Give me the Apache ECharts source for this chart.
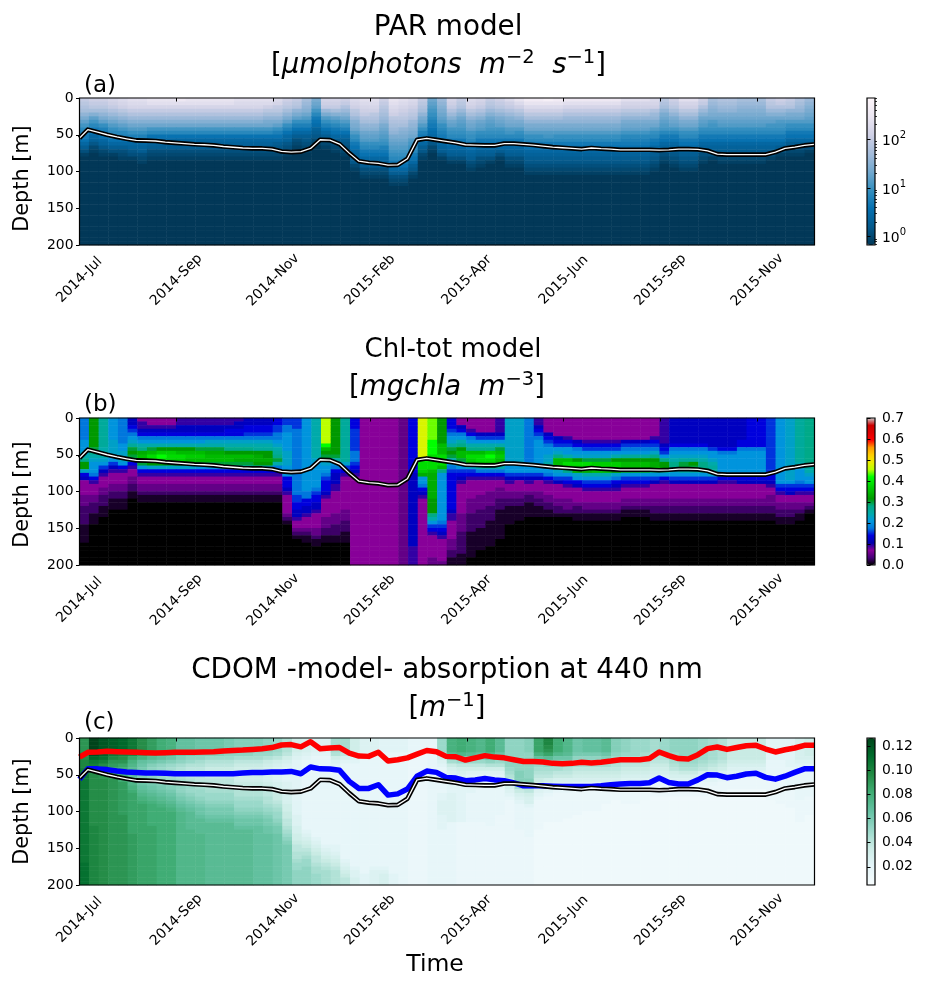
<!DOCTYPE html>
<html><head><meta charset="utf-8">
<style>html,body{margin:0;padding:0;background:#fff}#c{width:926px;height:985px}</style>
<script src="https://cdn.jsdelivr.net/npm/echarts@6/dist/echarts.min.js"></script>
</head><body><div id="c"></div>
<script>
const xTickLabels = ['2014-Jul','2014-Sep','2014-Nov','2015-Feb','2015-Apr','2015-Jun','2015-Sep','2015-Nov'];
const xTickCols = [0,10,20,30,40,50,60,70];
const depthTicks = [0,50,100,150,200];
const columnCount = 76;
const rowCount = 40;      // 5 m rows, 0-200 m
const rowDepth = 5;

// Each string is one time column, read top to bottom; a string's last character holds down to 200 m.
// PAR: base-36 level over the log10 colour range.
const parCols = [
"ponmkigecba975310","qpomjgeca9764210","qpomkigdba9764210","rqpnljhfdcb975310","srqomkigecb9753210","tsrpnljhfdb9764310",
"tsrpnljhfdb97653210","utrpnljhec97653210","utrpnljhec97653210","utrpnljhec97653210","vtrpnljhec97653210","utrpnljhec97653210",
"utrpnljhec97653210","utrpnljhec97653210","utrpnljhec97653210","utrpnljhec97653210","tsrpnljhec97653210","tsrpnljhec97653210",
"tsrpnljhec97653210","tsqomkihec97653210","srpomkigdb97543210","qpomkigdb97643210","ponkigdb9753210","mlkjhfdb97543210",
"ihgeca98654210","rqplifdb9753210","rqpmjgeca9753210","qpnljhfdb97543210","srqonljihfdca97654210",
"tsrqpnmkjhgfdca97653210","tsrqonmkjhgfdca97653210","qponmlkihgfedba97653210","utsrqonmlkihgfedca9753210","tsrqponmkjihgfedca9753210",
"srqponlkjihfedca9754210","ponmkihfdba975421 0","hgfedcba98754210","lkjihgfdcba9765310","rqpnljhgedca9765310",
"ponljhgfedca9765310","srqomkihgedca97653210","rqpnljhgfdca97653210","ponljhgfedca9765310","qpomkihgedca975310",
"sqpnljihfeca97653210","usqomkihfdca97653210","wusqomkihfdca976543210","wusqomkihfdca976543210","xusqomkihfeca976543210",
"wusqomkihfdca976543210","vtrpnlkihfdca976543210","vtrpnlkihfdca976543210","vtrpnlkihfdca976543210","vtrpnlkihfdca976543210",
"vtrpnlkihfdca976543210","vtrpnlkihfdca976543210","trqomkihgecba976543210","trqomkihgecba976543210","trqomkihgecba976543210",
"srqnlkihfdca976543210","onmkihgfeca97653210","qpomkihgeca976543210","trqomkihfdca976543210","trqomkihfdca976543210",
"qpnljhgfdca97653210","mlkjihfedca9765310","nmlkihgfdca97653210","nmlkihgfdca97653210","mlkjihgfdca97653210",
"mlkjihgfdca97653210","mlkjihgfdca97653210","ponljhgedca9765310","qpnljhfedca975310","ponkihfdca9753210","nmlkihfdca9753210","lkjihgfdca975310"
].map(s=>s.replace(/ /g,''));

// Chl: each character is a colour class, valued by chlLevels.
const chlLevels = {0:0,1:.012,2:.03,3:.05,4:.07,5:.092,6:.12,7:.14,8:.155,9:.175,a:.205,b:.225,c:.245,d:.26,e:.28,f:.30,g:.315,h:.335,i:.35,j:.37,k:.385,l:.42,m:.44,n:.455,o:.475,p:.49};
const chlCols = [
"999999aaabceggb76444433322222111110","ggggggggfecbaaa975444332221110","ddddddddcccba865444332221110","aaaaaabbbbaa86544433221110",
"9999999aabbba7544433221110","66789abdfgfc75443322110","455679acehiifa7544332110","445679acfikjgb7544332110",
"445679acgjlkgb7544332110","445679acgjkjgb7544332110","556679acgikjgb7544332110","556679acgijifb7544332110",
"556679acfijifa7544332110","556679bcfhiifa7544332110","556679bcfhiifa7544332110","556779bcegiifa7544332110",
"566779bcegihfb7544332110","667789bcegihfb7544332110","667789bcdghhgb7544332110","667789bcdgghgb7544332110",
"778899abcdefc97544332110","8899aaaaabbbbaaa77765444443210","8889999999999999999998877665443210",
"aaaaaaaaaaaaaaaaaaaa997766544432110","cccccccccccbaaaaaaa98776654444332110","nnnnnnnligfcbaa98777654444433322110",
"ggggggggggfca9766655444444333222110","ddddddddddddb8754444444443332221110",
"77788888899987654","4","4","4","4","3",
"777777777777777666666666666666666665","ooooooooooolkkjhaa97654","mmmmmmllllkkkkihhhhhhhggggeca8754444443","gggggggiiikkkieaaaaaaaaaaaaa987654444443",
"77789abdfgfca987777777777655444443332211","44679acegiifca876544444444333332222221","444579aceikjgb8754444433332222211111110","444468aceikkhc9754444333322222111111 0",
"444468acejlkhc9754443333222211111110","555568acfijigc97544333222111111110","bbbbbbbbbbbbbaa865443322111110",
"bbbbbbbbbbbbbaa86444332211110","999999999999aaa8654432211110","556789aaaaaaaaa8644433221110",
"44446789aabbcaa9754443322110","44444678abeiigba864444332210","44444578aacikiea875444333210","444444679abgkjhba764444322110",
"444444578abfkkhca875444332110","444444578abfjkica875444332110","444444578abfjkica875444332110","444444578acgjjgb9765444332110",
"444444689adgiifa875444332110","444444689adgiifa875444332110","444444689adgiifa875444332110","444445789beghhea8644443322110",
"5555555678aeggda7544443322110","666666679abceeba86444433221 10","666666679abdffca8644443322110","666666679abdgfca8644443322110",
"666666679abceeca8644443322110","666666668aabcddb8644443322110","6666666679aaaaa97544443322110","6666666679aaaaa97544443322110",
"666666779aaaaaa87644443322110","777777779aaaaaa87644443322110","777777779aaaaaa87644443322110","88888888888888877654433322110",
"aaaaaaaaaaaaaaaaaa875443322110","bbbbbbbbbbbbbbbbba876443322110","ddddddddddddcbaaa987544332110","eeeeeeeeeeeeedcbaa875443210"
].map(s=>s.replace(/ /g,''));

// CDOM: base-36 level over the colour range.
const cdomCols = [
"ppppqqrrssttttttttttttttttttttttttu","zzzzyvtsrqqqqqqqqqqqqqqqr","xxxxwusqpopqqqqqqqqqqqq","wwwwtrponnop","vvvvsqpnmllmooooooooop","ttttrnlkjiijklmnnnnnnnnnnno",
"qqqqolihgffghijklmn","oooomjhfeeefghijklmmmmmmn","mmmmkigedddefghijklm","lllljhfdcccdefghijklm","iiiihfecbbbcdeefghijk","iiiigedbaaabcddefghijjjjjk",
"hhhhfecbaaaabcddefghhijjjjk","hhhhfdba999aabcddefgghij","hhhhfdba999aabcddefgghij","ggggedba999aabcddefgghij","ffffeca988889abbcddefghhij","ffffeca988889abbcddefghhij",
"ffffdca988889abbcddefghhi","eeeedb98777789aabbcdefgghhi","ddddca87666677899abcddefggh","bbbba87655556667778899aabcdefg",
"88887655555555555555566677889aabbcdde","777765444444444444444444456789abcdde","66665444444444444444444444456789aabccd","6666544444444444444444444444456789abc",
"ccccb865444444444444444444444556789ab","cccca754444444444444444444444444456789aabb","88887654444444444444444444444444444566778",
"66665444444444444444444444444444444445","66665444444444444444444444444444444566","55554444444444444444444444444444444567","55554444444444444444444444444444444445","55554444",
"44443","44443","44444444","ddddb8654444444556666555 54","lllljfc97655555666666664","mmmmkgda8765555555555553",
"lllljfda8655555444444443","kkkkifda8655544444444443","mmmmkheb86544444444444443","jjjjhfdb86544444444443",
"eeeeeeeedcba876543","eeeeeeeeefffec976544444443","ffffeeeeeeefeda8775444444443","nnnnlifdcba987654333333332","rrqpnjgecba8765433333332",
"mmmmkhfdca97654333333332","kkkkjhfdba9765433333332","hhhhgedca9875433333332","iiiigedca987543333332","iiiigedca987543333332","jjjjhfdca9875433332",
"ffffedcba987543332","eeeedcba987654333322","dddddcba987654333322","ddddccba98765433322","ccccbba98765433322","ddddcba9876543332",
"eeeeddcba87654332","eeeeeedcb97654332","eeeeeedcb97654332","ddddddcba76543332","ccccccba976543322","bbbbbba9865433322","999999876543332","999999876543332",
"9999998765433322","9999998765433322","5555554444433333322","5555554444433333332","55555555444444333332","777777655444444443333332","8888876554444444333332"
].map(s=>s.replace(/ /g,''));

// Line values: depth in m at each time step.
const mldDepth = [54.5,43,46.5,50,53,55.5,57.7,58,58.5,60,61,62,63,63.6,64.5,66,67,68,68.6,68.6,69.5,72.7,73.6,73,68.6,56.8,57.3,62.7,75,86,88,89,91.4,91,82.7,57,55,57,59,61,63.6,64,64.5,64.5,62,62,63,64,65.5,66.8,67.7,68.6,69.5,68,69,69.5,70.5,70.5,70.5,70.5,71,70.5,69.5,69.5,70,71.8,76.4,77,77,77,77,77,73.6,68.6,66.8,64.5,63.2];
const redDepth = [26,19.5,19,18,18.6,19,19.5,20,20.5,20,19.5,19.5,19.5,19,18.6,17.7,17,16.4,15.5,14.5,13,9.5,9,12,5,14.5,13.6,13,20.5,24.5,25,19.5,31.4,29.5,27,22,17,18.6,25,25.5,30,27,24,26,27,29.5,32,32,32.7,34.5,35,34.5,33,34,33,31.4,29.5,29.5,29.5,28,19,24,28,28.6,22.7,14.5,12.3,15.5,13,10.5,10,15,19,16,13.6,10,10];
const blueDepth = [56,42,42,43,45,46.4,47,47.7,47.7,48,48.6,48.6,48.6,48.6,48.6,48.6,48.6,47.7,47,47,46.4,46.4,45.5,48.6,39.5,42,42.3,44,59,68.6,68.6,63.6,77.7,76,69.5,52,45,46.8,53.6,54.5,58,57,55,57,58,61,65,65,65,65.5,66,66,66,66,65,63.6,62.7,62,62,61,54.5,60.5,62.7,62.7,57,50,50.5,54,52,49,48,53.6,56,52,46.8,42,42];
const lineStartCol = -0.14;

const parTicksMajor = [0,1,2];
const parTicksMinor = [0.7,0.8,0.9,2,3,4,5,6,7,8,9,20,30,40,50,60,70,80,90,200,300,400,500,600,700];
const chlBarTicks = [0,0.1,0.2,0.3,0.4,0.5,0.6,0.7];
const cdomBarTicks = [0.02,0.04,0.06,0.08,0.10,0.12];

const PuBu_r = ['#023858','#045a8d','#0570b0','#3690c0','#74a9cf','#a6bddb','#d0d1e6','#ece7f2','#fff7fb'];
const spectral = ['#000000','#470079','#880099','#0000aa','#0000dd','#0077dd','#0099dd','#00aaaa','#00aa88','#009900','#00bb00','#00dd00','#00ff00','#bbff00','#eeee00','#ffcc00','#ff9900','#ff0000','#dd0000','#cc0000','#cccccc'];
const BuGn = ['#f7fcfd','#e5f5f9','#ccece6','#99d8c9','#66c2a4','#41ae76','#238b45','#006d2c','#00441b'];

const parMin=-0.17, parMax=2.848, chlMax=0.7, cdomMin=0.0049, cdomMax=0.1266;
const parVal = ch => parMin + parseInt(ch,36)*(parMax-parMin)/35;
const chlVal = ch => chlLevels[ch];
const cdomVal = ch => cdomMin + parseInt(ch,36)*(cdomMax-cdomMin)/35;

function cells(cols, val){
  const out=[];
  cols.forEach((s,c)=>{
    for(let r=0;r<rowCount;r++){
      const ch = r<s.length ? s[r] : s[s.length-1];
      out.push([c,r,val(ch)]);
    }
  });
  return out;
}
const catCols = Array.from({length:columnCount},(_,i)=>i);
const catRows = Array.from({length:rowCount},(_,i)=>i*rowDepth);
const asLine = arr => arr.map((d,i)=>[Math.max(0,i+lineStartCol),d]);

const font='"DejaVu Sans"';
const tickFs=13.9, barFs=13.9;
const panels=[
 {top:98,data:cells(parCols,parVal),min:parMin,max:parMax,colors:PuBu_r,namePad:[0,14,0,0]},
 {top:418,data:cells(chlCols,chlVal),min:0,max:chlMax,colors:spectral,namePad:[0,6,0,0]},
 {top:738,data:cells(cdomCols,cdomVal),min:cdomMin,max:cdomMax,colors:BuGn,namePad:[0,0,0,0]}
];
const H=147, L=79.5, W=735;
const grid=[],xAxis=[],yAxis=[],series=[],visualMap=[];
panels.forEach((p,k)=>{
  grid.push({left:L,top:p.top,width:W,height:H,outerBoundsMode:'none',show:true,z:10,backgroundColor:'transparent',borderColor:'#000',borderWidth:1.2});
  const gi=grid.length-1;
  xAxis.push({gridIndex:gi,type:'value',min:0,max:75.9,position:'bottom',z:10,
    axisLine:{show:false},splitLine:{show:false},
    axisTick:{show:true,length:3.5,customValues:xTickCols,lineStyle:{color:'#000',width:1}},
    axisLabel:{show:true,customValues:xTickCols,formatter:v=>xTickLabels[xTickCols.indexOf(v)],rotate:45,align:'center',verticalAlign:'middle',margin:35,fontFamily:font,fontSize:tickFs,color:'#000'}});
  const vx=xAxis.length-1;
  yAxis.push({gridIndex:gi,type:'value',inverse:true,min:0,max:200,interval:50,z:10,
    name:'Depth [m]',nameLocation:'middle',nameGap:46,nameTextStyle:{fontFamily:font,fontSize:20.8,color:'#000',padding:p.namePad},
    axisLine:{show:false},splitLine:{show:false},
    axisTick:{show:true,length:3.5,lineStyle:{color:'#000',width:1}},
    axisLabel:{fontFamily:font,fontSize:tickFs,color:'#000',margin:6}});
  const vy=yAxis.length-1;
  xAxis.push({gridIndex:gi,type:'category',data:catCols,show:false,boundaryGap:true});
  const cx=xAxis.length-1;
  yAxis.push({gridIndex:gi,type:'category',data:catRows,show:false,inverse:true,boundaryGap:true});
  const cy=yAxis.length-1;
  series.push({type:'heatmap',xAxisIndex:cx,yAxisIndex:cy,data:p.data,progressive:0,silent:true,itemStyle:{borderWidth:0},emphasis:{disabled:true},z:1});
  const si=series.length-1;
  visualMap.push({type:'continuous',seriesIndex:si,dimension:2,min:p.min,max:p.max,inRange:{color:p.colors},calculable:false,hoverLink:false,show:true,
    left:867,top:p.top,itemWidth:8,itemHeight:H,padding:0,borderWidth:0,orient:'vertical',z:4});
  const ln=(d,c,w,z)=>series.push({type:'line',xAxisIndex:vx,yAxisIndex:vy,data:asLine(d),showSymbol:false,symbol:'none',silent:true,lineStyle:{color:c,width:w,join:'round',cap:'butt'},z:z});
  if(k===2){ ln(redDepth,'#ff0000',5.5,3); ln(blueDepth,'#0000ff',5.5,3); }
  ln(mldDepth,'#000000',4.6,4); ln(mldDepth,'#ffffff',1.3,5);

  grid.push({left:867,top:p.top,width:8,height:H,outerBoundsMode:'none',show:true,z:10,backgroundColor:'transparent',borderColor:'#000',borderWidth:1.2});
  const bi=grid.length-1;
  xAxis.push({gridIndex:bi,type:'value',show:false,min:0,max:1});
  const barAxis=(o)=>Object.assign({gridIndex:bi,type:'value',position:'right',z:10,min:p.min,max:p.max,axisLine:{show:false},splitLine:{show:false},
     axisTick:{show:true,length:3.5,lineStyle:{color:'#000',width:1}},
     axisLabel:{show:true,fontFamily:font,fontSize:barFs,color:'#000',margin:7}},o);
  if(k===0){
    yAxis.push(barAxis({axisTick:{show:true,length:3.5,customValues:parTicksMajor,lineStyle:{color:'#000',width:1}},
      axisLabel:{show:true,customValues:parTicksMajor,margin:7,formatter:v=>'{b|10}{s|'+v+'}',
        rich:{b:{fontFamily:font,fontSize:barFs,color:'#000',lineHeight:18,verticalAlign:'bottom'},s:{fontFamily:font,fontSize:10,color:'#000',lineHeight:18,verticalAlign:'top'}}}}));
    yAxis.push(barAxis({axisTick:{show:true,length:2,customValues:parTicksMinor.map(Math.log10),lineStyle:{color:'#000',width:0.8}},axisLabel:{show:false}}));
  } else if(k===1){
    yAxis.push(barAxis({axisTick:{show:true,length:3.5,customValues:chlBarTicks,lineStyle:{color:'#000',width:1}},
      axisLabel:{show:true,customValues:chlBarTicks,margin:7,fontFamily:font,fontSize:barFs,color:'#000',formatter:v=>v.toFixed(1)}}));
  } else {
    yAxis.push(barAxis({axisTick:{show:true,length:3.5,customValues:cdomBarTicks,lineStyle:{color:'#000',width:1}},
      axisLabel:{show:true,customValues:cdomBarTicks,margin:7,fontFamily:font,fontSize:barFs,color:'#000',formatter:v=>v.toFixed(2)}}));
  }
  series.push({type:'line',xAxisIndex:xAxis.length-1,yAxisIndex:yAxis.length-1,data:[],silent:true});
});

const T=27.8, T2=27.5;
const rich={
  n:{fontFamily:font,fontSize:T2,color:'#000'},
  i:{fontFamily:font,fontSize:T2,fontStyle:'italic',color:'#000'},
  s:{fontFamily:font,fontSize:19.5,color:'#000',verticalAlign:'top',lineHeight:36},
};
const txt=(text,left,top,size)=>({text,left,top,padding:0,textAlign:'center',textStyle:{fontFamily:font,fontSize:size||T,fontWeight:'normal',color:'#000',rich}});
const lab=(text,left,top)=>({text,left,top,padding:0,textStyle:{fontFamily:font,fontSize:23,fontWeight:'normal',color:'#000'}});
const title=[
 txt('PAR model',448,14),
 txt('{n|[}{i|μmolphotons  m}{s|−2}{n| }{i| s}{s|−1}{n|]}',438.5,48),
 txt('Chl-tot model',453,337,26),
 txt('{n|[}{i|mgchla  m}{s|−3}{n|]}',447,370),
 txt('CDOM -model- absorption at 440 nm',447,657),
 txt('{n|[}{i|m}{s|−1}{n|]}',447,691),
 lab('(a)',84,75),
 lab('(b)',84,394),
 lab('(c)',84,712),
 {text:'Time',left:435,top:953,padding:0,textAlign:'center',textStyle:{fontFamily:font,fontSize:23.5,fontWeight:'normal',color:'#000'}}
];

const chart=echarts.init(document.getElementById('c'),null,{renderer:'canvas'});
chart.setOption({animation:false,backgroundColor:'#fff',title,grid,xAxis,yAxis,visualMap,series});
</script></body></html>
